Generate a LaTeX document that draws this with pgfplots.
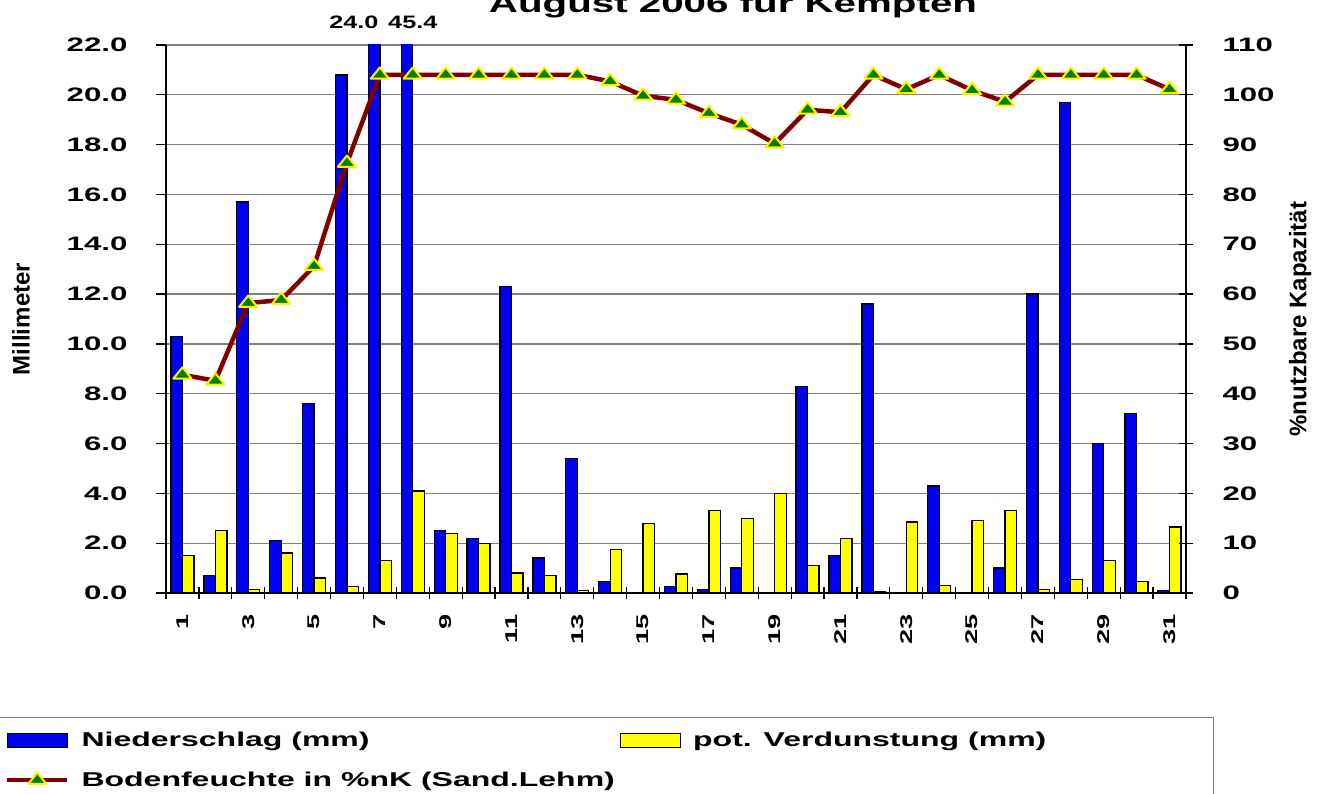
\documentclass[border=0pt]{standalone}
\usepackage{pgfplots}
\usepackage{pgfplotstable}
\pgfplotsset{compat=1.18}
\usepackage{fontspec}
\setmainfont{Liberation Sans}
\usepackage{graphicx}

\definecolor{barblue}{RGB}{0,0,245}
\definecolor{baryellow}{RGB}{255,255,0}
\definecolor{linered}{RGB}{128,0,0}
\definecolor{mkgreen}{RGB}{0,128,0}
\definecolor{gridgray}{RGB}{128,128,128}

\newcommand{\sx}[1]{\scalebox{1.6}[1]{#1}}

\pgfplotsset{
  /pgf/number format/assume math mode=true,
  barlegend/.style={legend image code/.code={\draw[##1] (0pt,-7pt) rectangle (60pt,7pt);}},
  linelegend/.style={legend image code/.code={\draw[mark repeat=2,mark phase=2,##1] plot coordinates {(0pt,0pt) (30pt,0pt) (60pt,0pt)};}},
}

\pgfplotstableread{
day N V B
1 10.3 1.5 43.8
2 0.7 2.5 42.6
3 15.7 0.15 58.2
4 2.1 1.6 58.8
5 7.6 0.6 65.6
6 20.8 0.25 86.3
7 24.0 1.3 104
8 45.4 4.1 104
9 2.5 2.4 104
10 2.2 2.0 104
11 12.3 0.8 104
12 1.4 0.7 104
13 5.4 0.1 104
14 0.45 1.75 102.7
15 0 2.8 99.8
16 0.27 0.76 99.0
17 0.15 3.3 96.3
18 1.0 3.0 94.0
19 0 4.0 90.2
20 8.3 1.1 97.0
21 1.5 2.2 96.5
22 11.6 0.05 104
23 0 2.85 101.1
24 4.3 0.3 104
25 0 2.9 100.9
26 1.0 3.3 98.6
27 12.0 0.15 104
28 19.7 0.55 104
29 6.0 1.3 104
30 7.2 0.45 104
31 0.1 2.65 101.1
}\datatable

\begin{document}
\begin{tikzpicture}
\begin{axis}[
  at={(166pt,200pt)}, anchor=south west,
  scale only axis, width=1020pt, height=548pt,
  xmin=0.5, xmax=31.5, ymin=0, ymax=22,
  clip mode=individual,
  ybar=0pt, bar width=11.5pt,
  axis x line*=bottom, axis y line*=left,
  axis line style={line width=1.2pt, black, -},
  ytick={0,2,...,22},
  ymajorgrids, major grid style={gridgray, line width=1.3pt},
  xtick={1,3,...,31},
  minor xtick={0.5,1.5,...,31.5},
  tick align=outside,
  major tick length=10pt, minor tick length=12pt,
  major x tick style={draw=none},
  minor x tick style={black, line width=1.2pt, yshift=6pt},
  ytick style={black, line width=1.2pt},
  yticklabel={\sx{\pgfmathprintnumber[fixed,fixed zerofill,precision=1]{\tick}}},
  yticklabel style={font=\fontsize{19.5}{20}\selectfont\bfseries, xshift=-25pt},
  xticklabel={\sx{\pgfmathprintnumber{\tick}}},
  xticklabel style={yshift=-8pt, rotate=90, anchor=east, font=\fontsize{17}{18}\selectfont\bfseries},
  ylabel={Millimeter},
  ylabel style={at={(axis description cs:-0.142,0.5)}, anchor=center, font=\fontsize{24}{26}\selectfont\bfseries},
]
\addplot[fill=barblue, draw=black, line width=1.3pt] table[x=day,y=N]{\datatable};
\addplot[fill=baryellow, draw=black, line width=1.3pt] table[x=day,y=V]{\datatable};
\node[anchor=base, font=\fontsize{18}{20}\selectfont\bfseries] at (axis cs:6.21,22) [yshift=16pt] {\scalebox{1.4}[1]{24.0}};
\node[anchor=base, font=\fontsize{18}{20}\selectfont\bfseries] at (axis cs:8.0,22) [yshift=16pt] {\scalebox{1.4}[1]{45.4}};
\end{axis}
\begin{axis}[
  at={(166pt,200pt)}, anchor=south west,
  scale only axis, width=1020pt, height=548pt,
  xmin=0.5, xmax=31.5, ymin=0, ymax=110,
  axis x line=none, axis y line*=right,
  axis line style={line width=1.2pt, black, -},
  ytick={0,10,...,110},
  tick align=center, major tick length=14pt,
  ytick style={black, line width=1.2pt},
  yticklabel={\sx{\pgfmathprintnumber{\tick}}},
  yticklabel style={font=\fontsize{19.5}{20}\selectfont\bfseries, xshift=26pt},
  ylabel={\%nutzbare Kapazität},
  ylabel style={at={(axis description cs:1.112,0.5)}, anchor=center, font=\fontsize{24}{26}\selectfont\bfseries},
  legend columns=2,
  legend cell align=left,
  legend style={at={(axis description cs:-0.158,-0.25)}, anchor=north west, draw=none, fill=none,
    font=\fontsize{20}{22}\selectfont\bfseries, inner sep=0pt,
    /tikz/every odd column/.append style={column sep=10pt},
    /tikz/every even column/.append style={column sep=3pt}, row sep=20pt},
]
\addlegendimage{barlegend, fill=barblue, draw=black, line width=1.3pt}
\addlegendentry{\sx{Niederschlag (mm)}}
\addlegendimage{barlegend, fill=baryellow, draw=black, line width=1.3pt}
\addlegendentry{\sx{pot. Verdunstung (mm)}}
\addplot[linelegend, linered, line width=4.5pt, line join=round, mark=triangle*, mark size=7.5pt,
  mark options={fill=mkgreen, draw=yellow, line width=2pt, xscale=1.4}] table[x=day,y=B]{\datatable};
\addlegendentry{\sx{Bodenfeuchte in \%nK (Sand.Lehm)}}
\end{axis}
\node[anchor=base, font=\fontsize{26}{28}\selectfont\bfseries] at (733pt,780pt) {\scalebox{1.55}[1]{August 2006 für Kempten}};
\draw[gray, line width=1pt] (-3pt,-20pt) rectangle (1213pt,76pt);
\pgfresetboundingbox
\useasboundingbox (0,0) rectangle (1330pt,793pt);
\end{tikzpicture}
\end{document}
